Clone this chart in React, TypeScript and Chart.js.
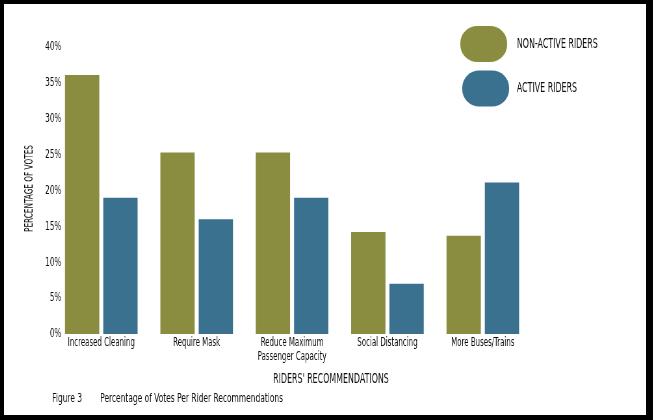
import { useEffect, useRef } from "react"
import { Chart, registerables } from "chart.js"

Chart.register(...registerables)

const categories = [
  "Increased Cleaning",
  "Require Mask",
  ["Reduce Maximum", "Passenger Capacity"],
  "Social Distancing",
  "More Buses/Trains",
]
const nonActiveRiders = [36.1, 25.3, 25.3, 14.2, 13.7]
const activeRiders = [19.0, 16.0, 19.0, 7.0, 21.1]
const yMax = 40
const yStep = 5

const xTitle = "RIDERS' RECOMMENDATIONS"
const yTitle = "PERCENTAGE OF VOTES"
const figureLabel = "Figure 3"
const caption = "Percentage of Votes Per Rider Recommendations"

const green = "#8a8d3f"
const blue = "#3a718e"
const ink = "#0d0d0d"
const family = '"DejaVu Sans Condensed", "Liberation Sans Narrow", sans-serif'

// the original uses a very narrow typeface; the canvas is drawn wide and
// squeezed horizontally with CSS so the installed condensed font looks close
const squeeze = 0.65
const logicalWidth = 988
const logicalHeight = 411

// legend, axis titles and caption sit where the chart area can't put them
const extrasPlugin = {
  id: "extras",
  afterDraw(chart: Chart) {
    const { ctx } = chart
    ctx.save()
    ctx.textBaseline = "middle"

    chart.data.datasets.forEach((ds, i) => {
      const top = 22 + i * 44.5
      const left = 702 + i * 3
      ctx.fillStyle = ds.backgroundColor as string
      ctx.beginPath()
      ctx.roundRect(left, top, 72, 36, [{ x: 17 / squeeze, y: 17 }])
      ctx.fill()
      ctx.fillStyle = ink
      ctx.font = `13.5px ${family}`
      ctx.textAlign = "left"
      ctx.fillText(String(ds.label).toUpperCase(), 789, top + 18)
    })

    ctx.fillStyle = ink
    ctx.font = `13.5px ${family}`
    ctx.textAlign = "center"
    ctx.fillText(xTitle, 503, 375)

    ctx.font = `12.8px ${family}`
    ctx.textAlign = "left"
    ctx.fillText(figureLabel, 74, 395)
    ctx.fillText(caption, 148, 395)

    // rotated title: undo the squeeze across the glyphs, condense along them
    const { top, bottom } = chart.chartArea
    ctx.translate(39.5, (top + bottom) / 2 - 2)
    ctx.rotate(-Math.PI / 2)
    ctx.scale(0.74, 1 / squeeze)
    ctx.font = `11px ${family}`
    ctx.textAlign = "center"
    ctx.fillText(yTitle, 0, 0)
    ctx.restore()
  },
}

export default function App() {
  const chartRef = useRef<HTMLCanvasElement>(null)
  const chartInstance = useRef<Chart | null>(null)

  useEffect(() => {
    if (!chartRef.current) return
    if (chartInstance.current) chartInstance.current.destroy()

    const ctx = chartRef.current.getContext("2d")
    if (!ctx) return

    chartInstance.current = new Chart(ctx, {
      type: "bar",
      data: {
        labels: categories,
        datasets: [
          {
            label: "Non-Active Riders",
            data: nonActiveRiders,
            backgroundColor: green,
            categoryPercentage: 0.803,
            barPercentage: 0.896,
          },
          {
            label: "Active Riders",
            data: activeRiders,
            backgroundColor: blue,
            categoryPercentage: 0.803,
            barPercentage: 0.896,
          },
        ],
      },
      options: {
        responsive: true,
        maintainAspectRatio: false,
        animation: false,
        layout: {
          padding: { top: 43, right: 178, bottom: 47, left: 0 },
        },
        plugins: {
          legend: { display: false },
          tooltip: { enabled: false },
        },
        scales: {
          x: {
            grid: { display: false, drawTicks: false },
            border: { display: false },
            ticks: {
              color: ink,
              padding: 1.5,
              maxRotation: 0,
              autoSkip: false,
              font: { family, size: 12, lineHeight: 1.2 },
            },
            afterFit(scale) {
              scale.height = 34
            },
          },
          y: {
            min: 0,
            max: yMax,
            grid: { display: false, drawTicks: false },
            border: { display: false },
            ticks: {
              stepSize: yStep,
              color: ink,
              mirror: true,
              crossAlign: "far",
              padding: -13,
              font: { family, size: 12.5 },
              callback: (v) => `${v}%`,
            },
            afterFit(scale) {
              scale.width = 76.3
            },
          },
        },
      },
      plugins: [extrasPlugin],
    })

    return () => {
      if (chartInstance.current) {
        chartInstance.current.destroy()
        chartInstance.current = null
      }
    }
  }, [])

  return (
    <div
      style={{
        position: "absolute",
        left: 0,
        top: 0,
        width: 653,
        height: 420,
        background: "#000",
        overflow: "hidden",
      }}
    >
      <div
        style={{
          position: "absolute",
          left: 4,
          top: 4,
          width: 642,
          height: 411,
          background: "#fff",
          overflow: "hidden",
        }}
      >
        <div
          style={{
            position: "relative",
            width: logicalWidth,
            height: logicalHeight,
            transform: `scaleX(${squeeze})`,
            transformOrigin: "0 0",
          }}
        >
          <canvas ref={chartRef}></canvas>
        </div>
      </div>
    </div>
  )
}
